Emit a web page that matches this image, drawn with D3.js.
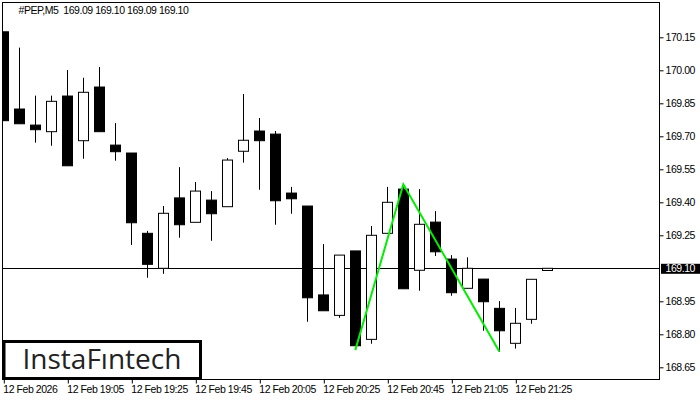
<!DOCTYPE html>
<html><head><meta charset="utf-8">
<script src="https://cdn.jsdelivr.net/npm/d3@7"></script>
<style>
html,body{margin:0;padding:0;background:#fff;}
svg{display:block;}
</style></head>
<body>
<svg id="c" width="700" height="400"></svg>
<script>
const opens  = [170.175,169.824,169.751,169.721,169.883,169.680,169.924,169.660,169.624,169.259,169.100,169.420,169.309,169.410,169.380,169.632,169.724,169.710,169.442,169.383,168.979,168.886,169.179,168.777,169.259,169.460,169.091,169.310,169.142,169.009,169.051,168.918,168.759,168.868,169.09];
const highs  = [170.175,170.103,169.885,169.885,170.001,169.966,170.015,169.760,169.624,169.270,169.383,169.560,169.492,169.451,169.601,169.892,169.783,169.724,169.470,169.383,169.210,169.160,169.179,169.292,169.470,169.470,169.460,169.360,169.160,169.150,169.051,168.951,168.920,169.050,169.10];
const lows   = [169.771,169.757,169.671,169.657,169.566,169.598,169.721,169.589,169.206,169.057,169.075,169.239,169.309,169.225,169.380,169.580,169.457,169.298,169.348,168.857,168.907,168.875,168.748,168.757,169.259,169.007,168.998,169.156,168.975,169.009,168.816,168.721,168.735,168.848,169.09];
const closes = [169.771,169.757,169.730,169.859,169.566,169.900,169.721,169.630,169.307,169.118,169.350,169.298,169.451,169.348,169.592,169.682,169.680,169.407,169.416,168.966,168.907,169.160,168.748,169.250,169.400,169.007,169.300,169.175,168.989,169.100,168.948,168.816,168.850,169.050,169.10];
const timeTickIdx = [0,4,8,12,16,20,24,28,32];
const timeLabels = ["12 Feb 2026","12 Feb 19:05","12 Feb 19:25","12 Feb 19:45","12 Feb 20:05","12 Feb 20:25","12 Feb 20:45","12 Feb 21:05","12 Feb 21:25"];
const priceTicks = [170.15,170.00,169.85,169.70,169.55,169.40,169.25,168.95,168.80,168.65];
const currentPrice = 169.10;
const patternIdx = [22,25,31];
const patternPrice = [168.728,169.482,168.722];
const headerText = "#PEP,M5  169.09 169.10 169.09 169.10";

const FONT = "'Liberation Sans',Arial,sans-serif";
const FS = 10.5, LS = -0.45;
const svg = d3.select("#c");
const L = 2.5, T = 2.5, R = 659.5, B = 379.5;

const x = d3.scaleLinear().domain([0, 34]).range([3.3, 547.3]);
const y = d3.scaleLinear().domain([168.65, 170.15]).range([367.3, 37.3]);

svg.append("defs").append("clipPath").attr("id","pc")
  .append("rect").attr("x",L).attr("y",T).attr("width",R-L).attr("height",B-T);

const plot = svg.append("g").attr("clip-path","url(#pc)");

// current price line
const cyl = Math.round(y(currentPrice))+0.5;
plot.append("line").attr("x1",L).attr("x2",R)
  .attr("y1",cyl).attr("y2",cyl)
  .attr("stroke","#000").attr("stroke-width",1);

const data = opens.map((o,i)=>({i,o,h:highs[i],l:lows[i],c:closes[i]}));
const bw = 11;
const g = plot.append("g");
g.selectAll("line.w").data(data).enter().append("line").attr("class","w")
  .attr("x1",d=>Math.round(x(d.i))+0.5).attr("x2",d=>Math.round(x(d.i))+0.5)
  .attr("y1",d=>y(d.h)).attr("y2",d=>y(d.l))
  .attr("stroke","#000").attr("stroke-width",1);
g.selectAll("rect.b").data(data).enter().append("rect").attr("class","b")
  .attr("x",d=>Math.round(x(d.i))-5+0.5)
  .attr("y",d=>y(Math.max(d.o,d.c)))
  .attr("width",bw-1)
  .attr("height",d=>Math.max(1,Math.abs(y(d.o)-y(d.c))))
  .attr("fill",d=>d.c<d.o?"#000":"#fff")
  .attr("stroke","#000").attr("stroke-width",1);

// pattern line
const pts = patternIdx.map((k,j)=>[x(k), y(patternPrice[j])]);
plot.append("path").attr("d", d3.line()(pts))
  .attr("fill","none").attr("stroke","#00ee00").attr("stroke-width",2);

// frame
svg.append("rect").attr("x",L).attr("y",T).attr("width",R-L).attr("height",B-T)
  .attr("fill","none").attr("stroke","#000").attr("stroke-width",1);

// y axis
const ya = svg.append("g").attr("transform",`translate(${R},0)`)
  .call(d3.axisRight(y).tickValues(priceTicks).tickSize(4).tickPadding(2).tickFormat(d3.format(".2f")));
ya.select(".domain").remove();
ya.selectAll("text").attr("font-family",FONT).attr("font-size",FS).attr("letter-spacing",LS).attr("fill","#000");

// current price tag
const cy = y(currentPrice);
svg.append("rect").attr("x",661).attr("y",cy-4.5).attr("width",39).attr("height",10).attr("fill","#000");
svg.append("text").attr("x",665.5).attr("y",cy).attr("dy","0.36em")
  .attr("font-family",FONT).attr("font-size",FS).attr("letter-spacing",LS).attr("fill","#fff").text(currentPrice.toFixed(2));

// x axis
const xa = svg.append("g").attr("transform",`translate(0,${B})`)
  .call(d3.axisBottom(x).tickValues(timeTickIdx).tickSize(4).tickPadding(2)
    .tickFormat((d,i)=>timeLabels[i]));
xa.select(".domain").remove();
xa.selectAll(".tick line").attr("transform","translate(0.5,0)");
xa.selectAll("text").attr("font-family",FONT).attr("font-size",FS).attr("letter-spacing",LS).attr("fill","#000")
  .attr("text-anchor","start").attr("x",-0.5);

// header
svg.append("text").attr("x",18.5).attr("y",14).attr("font-family",FONT).attr("font-size",FS)
  .attr("letter-spacing",LS).attr("fill","#000").style("white-space","pre").text(headerText);

// logo
svg.append("rect").attr("x",4).attr("y",341.5).attr("width",196.5).attr("height",37)
  .attr("fill","#fff").attr("stroke","#000").attr("stroke-width",3);
svg.append("text").attr("x",22.5).attr("y",369).attr("font-family","'Open Sans',Roboto,sans-serif")
  .attr("font-size",28).attr("font-weight",500).attr("fill","#222").text("InstaF\u0131ntech");
</script>
</body></html>
